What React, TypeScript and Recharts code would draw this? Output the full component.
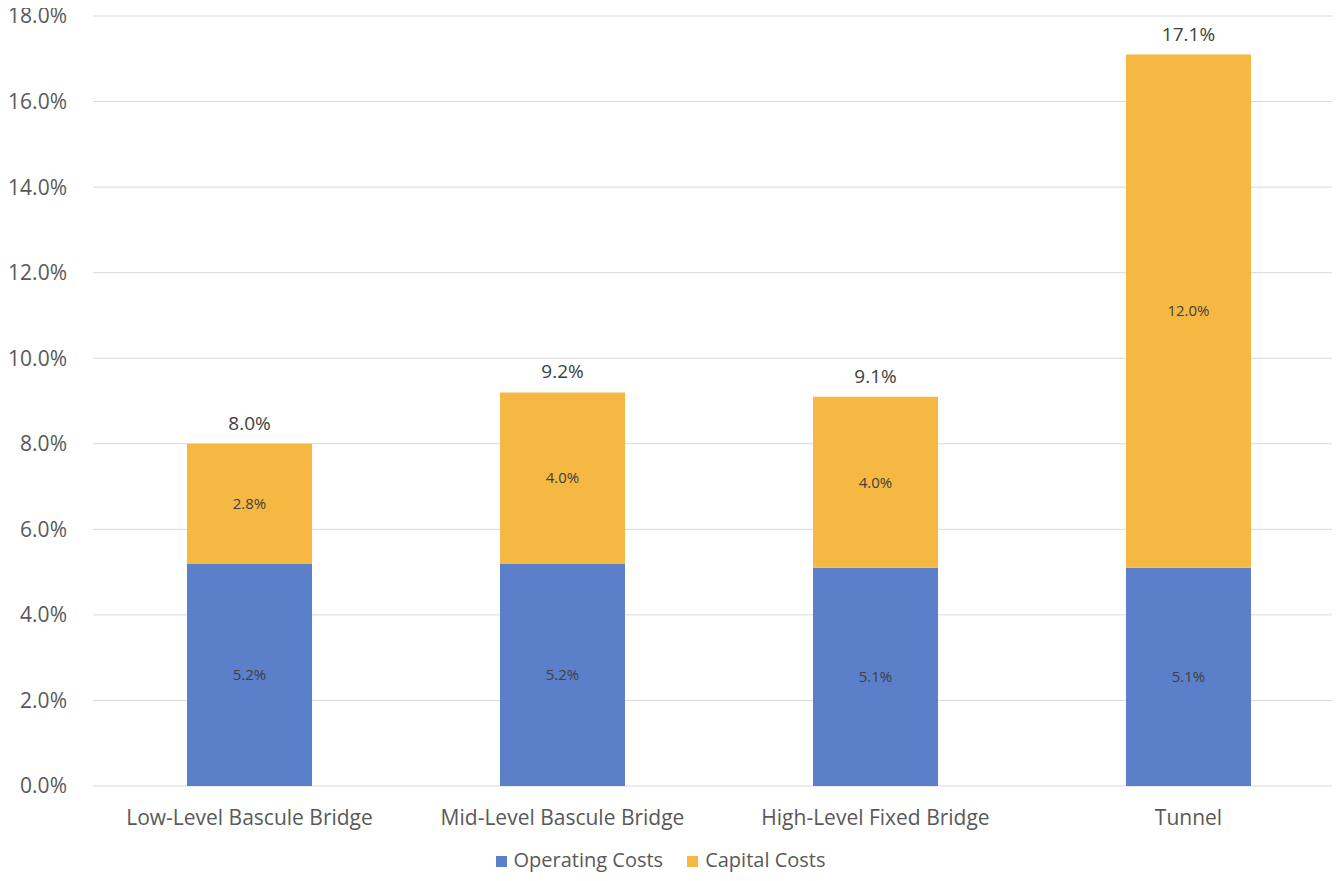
import { BarChart, Bar, XAxis, YAxis, CartesianGrid, Legend, LabelList } from "recharts";

const categories = ["Low-Level Bascule Bridge", "Mid-Level Bascule Bridge", "High-Level Fixed Bridge", "Tunnel"];
const operatingCosts = [5.2, 5.2, 5.1, 5.1];
const capitalCosts = [2.8, 4.0, 4.0, 12.0];
const yTicks = [0, 2, 4, 6, 8, 10, 12, 14, 16, 18];
const seriesOrder = ["Operating Costs", "Capital Costs"];

const data = categories.map((name, i) => ({
  name,
  operating: operatingCosts[i],
  capital: capitalCosts[i],
  total: operatingCosts[i] + capitalCosts[i],
}));

const FONT = "'Open Sans', sans-serif";
const pct = (v: number) => `${Number(v).toFixed(1)}%`;

export default function App() {
  return (
    <div style={{ margin: -8, width: 1340, height: 881, overflow: "hidden", fontFamily: FONT }}>
      <BarChart width={1345} height={881} data={data} margin={{ top: 16, right: 0, bottom: 4, left: 0 }}>
        <CartesianGrid vertical={false} stroke="#d9d9d9" />
        <XAxis
          dataKey="name"
          axisLine={false}
          tickLine={false}
          height={61}
          tick={{ fill: "#595959", fontSize: 21, fontFamily: FONT }}
          tickMargin={18}
        />
        <YAxis
          domain={[0, 18]}
          ticks={yTicks}
          tickFormatter={pct}
          axisLine={false}
          tickLine={false}
          width={93}
          tick={{ fill: "#595959", fontSize: 21, fontFamily: FONT }}
          tickMargin={20}
        />
        <Legend
          verticalAlign="bottom"
          height={30}
          iconType="square"
          iconSize={11}
          itemSorter={(item: any) => seriesOrder.indexOf(item.value)}
          wrapperStyle={{ fontSize: 20, lineHeight: "26px", fontFamily: FONT }}
          formatter={(v: string) => <span style={{ color: "#595959", marginLeft: 3, marginRight: 14 }}>{v}</span>}
        />
        <Bar dataKey="operating" name="Operating Costs" stackId="a" fill="#5b7fc9" barSize={125} isAnimationActive={false}>
          <LabelList dataKey="operating" position="center" formatter={pct} fill="#404040" fontSize={15} fontFamily={FONT} />
        </Bar>
        <Bar dataKey="capital" name="Capital Costs" stackId="a" fill="#f5b943" barSize={125} isAnimationActive={false}>
          <LabelList dataKey="capital" position="center" formatter={pct} fill="#404040" fontSize={15} fontFamily={FONT} />
          <LabelList dataKey="total" position="top" offset={14} formatter={pct} fill="#404040" fontSize={19} fontFamily={FONT} />
        </Bar>
      </BarChart>
    </div>
  );
}
